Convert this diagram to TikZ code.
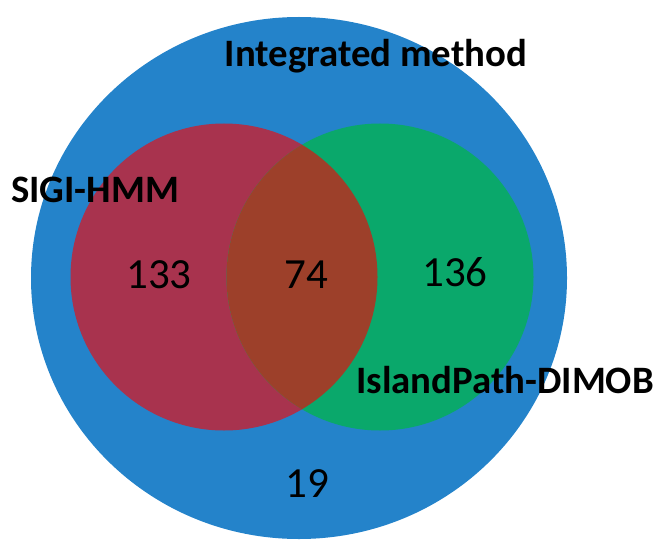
\documentclass[tikz,border=0pt]{standalone}
\usepackage{fontspec}
\setmainfont{Carlito}
\definecolor{outerblue}{RGB}{36,131,202}
\definecolor{setred}{RGB}{168,51,78}
\definecolor{setgreen}{RGB}{10,168,107}
\definecolor{overlapbrown}{RGB}{157,64,42}
\tikzset{
  setlabel/.style={font=\fontsize{38.8}{44}\selectfont\bfseries, inner sep=0pt, anchor=base},
  countlabel/.style={font=\fontsize{43}{49}\selectfont, inner sep=0pt},
}
\begin{document}
\begin{tikzpicture}[x=1pt,y=-1pt]
\useasboundingbox (0,0) rectangle (655,540);
\fill[outerblue] (299,278) ellipse [x radius=268, y radius=261];
\fill[setred] (224,277) circle [radius=153.5];
\fill[setgreen] (380,277) circle [radius=153.5];
\begin{scope}
  \clip (224,277) circle [radius=153.5];
  \fill[overlapbrown] (380,277) circle [radius=153.5];
\end{scope}
\node[setlabel] (integ) at (376,67) {Integrated method};
\node[setlabel] (sigi) at (95,202) {SIGI-HMM};
\node[setlabel] (island) at (505,393) {IslandPath-DIMOB};
\node[countlabel] (n133) at (159,275) {133};
\node[countlabel] (n74) at (306,275) {74};
\node[countlabel] (n136) at (455,272) {136};
\node[countlabel] (n19) at (307,484) {19};
\end{tikzpicture}
\end{document}
